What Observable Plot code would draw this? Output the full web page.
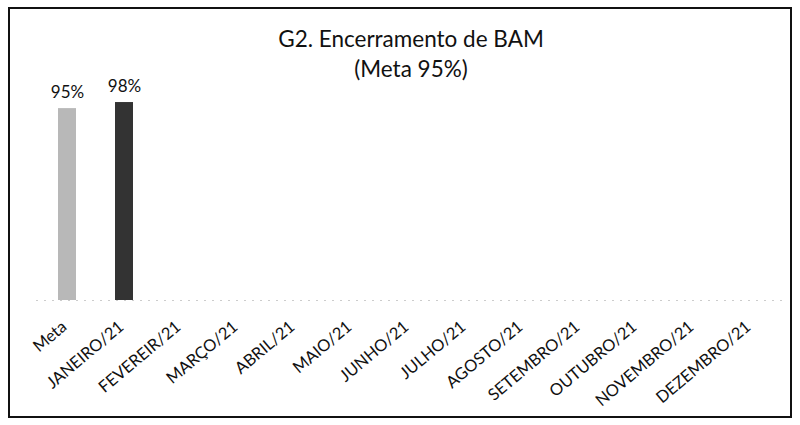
<!DOCTYPE html>
<html>
<head>
<meta charset="utf-8">
<script src="https://cdn.jsdelivr.net/npm/d3@7"></script>
<script src="https://cdn.jsdelivr.net/npm/@observablehq/plot@0.6"></script>
<style>
  html, body { margin: 0; padding: 0; background: #fff; }
  #wrap { position: relative; width: 800px; height: 425px; overflow: hidden; font-family: Lato, "Open Sans", sans-serif; }
  #frame { position: absolute; left: 8px; top: 7px; width: 780px; height: 407px; border: 2px solid #111; }
  #title { position: absolute; left: 0; width: 822px; top: 24px; text-align: center; font-size: 22.5px; line-height: 30px; color: #111; }
  #chart { position: absolute; left: 0; top: 0; }
</style>
</head>
<body>
<div id="wrap">
  <div id="frame"></div>
  <div id="chart"></div>
  <div id="title">G2. Encerramento de BAM<br>(Meta 95%)</div>
</div>
<script>
const categories = ["Meta", "JANEIRO/21", "FEVEREIR/21", "MARÇO/21", "ABRIL/21", "MAIO/21", "JUNHO/21", "JULHO/21", "AGOSTO/21", "SETEMBRO/21", "OUTUBRO/21", "NOVEMBRO/21", "DEZEMBRO/21"];
const values = [0.95, 0.98, null, null, null, null, null, null, null, null, null, null, null];
const barColors = ["#b8b8b8", "#333333"];

const data = categories.map((c, i) => ({cat: c, value: values[i]})).filter(d => d.value != null);

const chart = Plot.plot({
  width: 800,
  height: 425,
  marginTop: 98,
  marginBottom: 125,
  marginLeft: 36,
  marginRight: 17,
  style: {fontFamily: "Lato, 'Open Sans', sans-serif", background: "transparent", overflow: "visible"},
  x: {domain: categories, paddingInner: 0.68, paddingOuter: 0.34, label: null},
  y: {domain: [0, 1], axis: null},
  color: {domain: ["Meta", "JANEIRO/21"], range: barColors},
  marks: [
    Plot.ruleY([0], {stroke: "#ccc", strokeDasharray: "2,6", strokeWidth: 1}),
    Plot.barY(data, {x: "cat", y: "value", fill: "cat"}),
    Plot.text(data, {x: "cat", y: "value", text: d => Math.round(d.value * 100) + "%", dy: -16, fontSize: 17, fill: "#111"}),
    Plot.axisX({tickRotate: -40, tickSize: 0, tickPadding: 24, fontSize: 16.5, fill: "#111", dx: -3})
  ]
});
document.getElementById("chart").appendChild(chart);
</script>
</body>
</html>
